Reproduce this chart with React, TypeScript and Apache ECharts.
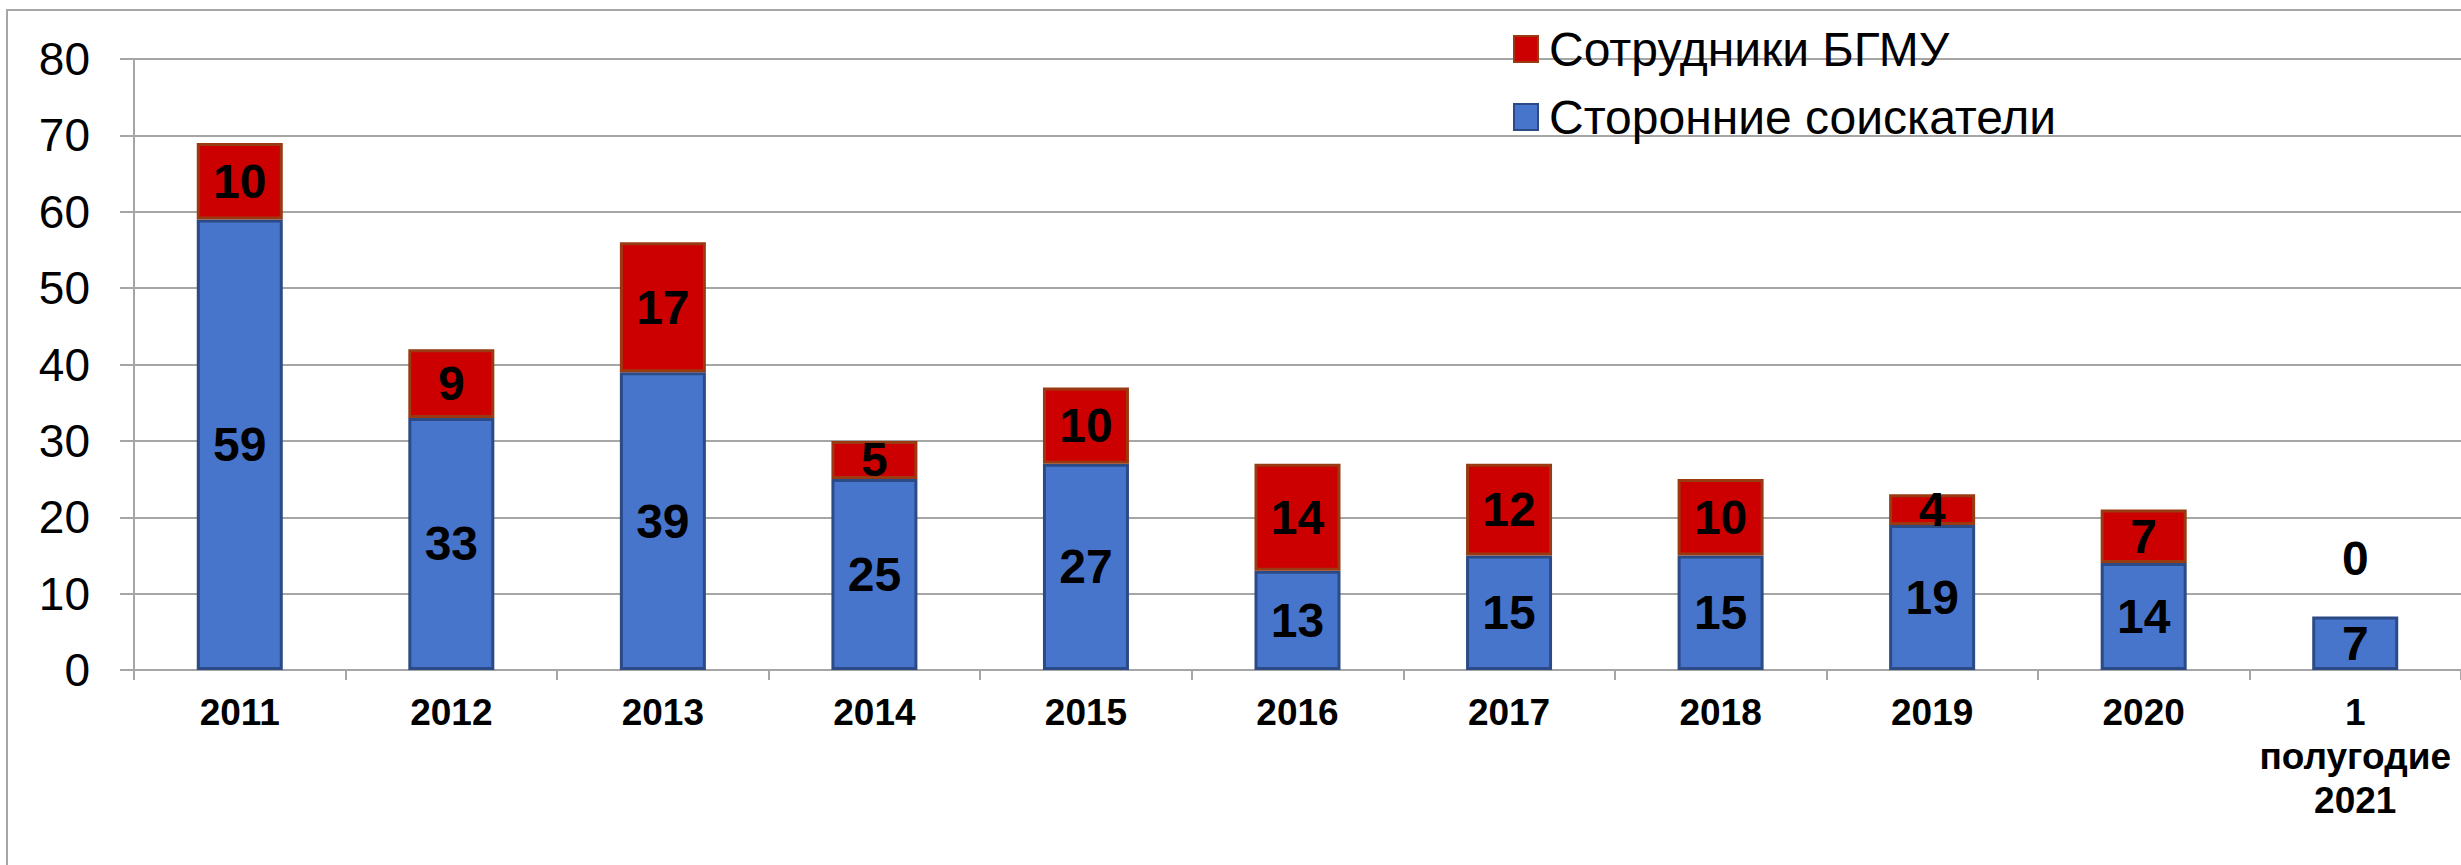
import React, { useEffect, useRef } from "react";
import * as echarts from "echarts";

const categories = ["2011", "2012", "2013", "2014", "2015", "2016", "2017", "2018", "2019", "2020", "1\nполугодие\n2021"];
const externalApplicants = [59, 33, 39, 25, 27, 13, 15, 15, 19, 14, 7];
const bgmuStaff = [10, 9, 17, 5, 10, 14, 12, 10, 4, 7, 0];
const seriesNames = ["Сотрудники БГМУ", "Сторонние соискатели"];

const FONT = "'Liberation Sans', Arial, Helvetica, sans-serif";

export default function App() {
  const ref = useRef<HTMLDivElement>(null);
  useEffect(() => {
    if (!ref.current) return;
    const chart = echarts.init(ref.current, null, { renderer: "svg" });
    const labelStyle = {
      show: true,
      position: "inside",
      fontFamily: FONT,
      fontWeight: "bold",
      fontSize: 48,
      color: "#000",
    };
    chart.setOption({
      animation: false,
      backgroundColor: "#fff",
      graphic: [
        {
          type: "rect",
          shape: { x: 7, y: 10, width: 2480, height: 880 },
          style: { fill: "none", stroke: "#A6A6A6", lineWidth: 2 },
          silent: true,
        },
      ],
      legend: {
        orient: "vertical",
        left: 1508,
        top: 19,
        icon: "rect",
        itemWidth: 24,
        itemHeight: 26,
        itemGap: 18,
        data: seriesNames,
        textStyle: { fontFamily: FONT, fontSize: 48, color: "#000", lineHeight: 50, padding: [0, 0, 0, 6] },
      },
      grid: { left: 134, top: 59, bottom: 195, right: -9, containLabel: false },
      xAxis: {
        type: "category",
        data: categories,
        boundaryGap: true,
        axisLine: { lineStyle: { color: "#A6A6A6", width: 2 } },
        axisTick: { show: true, length: 10, alignWithLabel: false, lineStyle: { color: "#A6A6A6", width: 2 } },
        axisLabel: {
          fontFamily: FONT,
          fontWeight: "bold",
          fontSize: 37,
          lineHeight: 44,
          color: "#000",
          margin: 20,
          interval: 0,
        },
      },
      yAxis: {
        type: "value",
        min: 0,
        max: 80,
        interval: 10,
        axisLine: { show: true, lineStyle: { color: "#A6A6A6", width: 2 } },
        axisTick: { show: true, length: 14, lineStyle: { color: "#A6A6A6", width: 2 } },
        splitLine: { lineStyle: { color: "#A6A6A6", width: 2 } },
        axisLabel: { fontFamily: FONT, fontSize: 46, color: "#000", margin: 44 },
      },
      series: [
        {
          name: seriesNames[1],
          type: "bar",
          stack: "total",
          barWidth: 86,
          data: externalApplicants,
          itemStyle: { color: "#4775CC", borderColor: "#2B4A86", borderWidth: 3 },
          label: labelStyle,
        },
        {
          name: seriesNames[0],
          type: "bar",
          stack: "total",
          barWidth: 86,
          data: bgmuStaff.map((v) =>
            v === 0
              ? {
                  value: v,
                  itemStyle: { color: "transparent", borderWidth: 0 },
                  label: { position: "top", distance: 34 },
                }
              : v
          ),
          itemStyle: { color: "#CC0000", borderColor: "#9A3A12", borderWidth: 3 },
          label: labelStyle,
        },
      ],
    });
    return () => chart.dispose();
  }, []);
  return (
    <div
      ref={ref}
      style={{ position: "absolute", left: 0, top: 0, width: 2461, height: 865, overflow: "hidden" }}
    />
  );
}
